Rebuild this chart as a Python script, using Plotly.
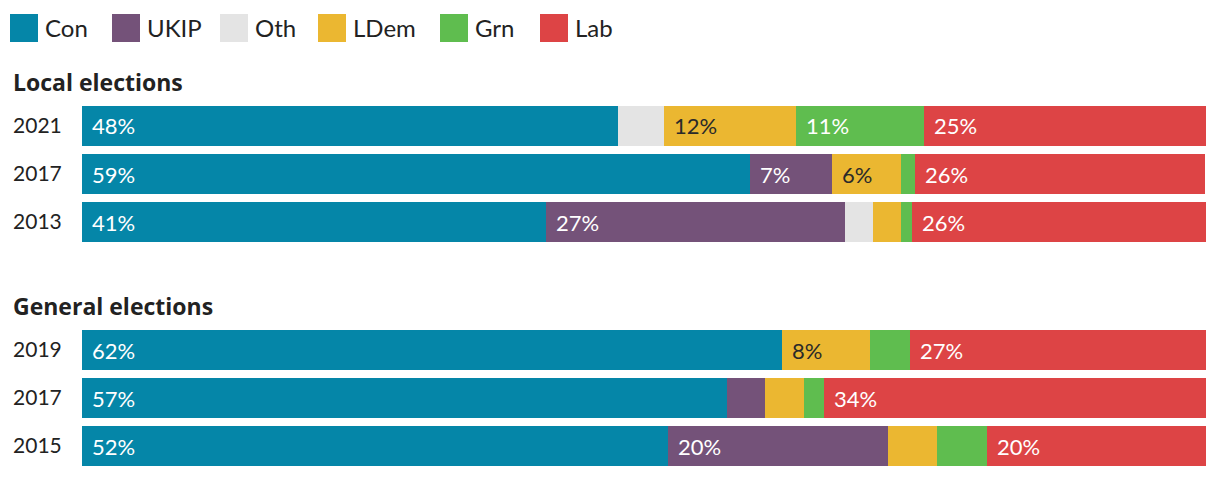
import plotly.graph_objects as go

parties = ["Con", "UKIP", "Oth", "LDem", "Grn", "Lab"]
colors = ["#0586A8", "#745279", "#E4E4E4", "#EBB731", "#5FBD4F", "#DD4445"]
text_colors = ["#FFFFFF", "#FFFFFF", "#2A2A2A", "#2A2A2A", "#FFFFFF", "#FFFFFF"]

local_years = ["2021", "2017", "2013"]
local_con = [47.7, 59.4, 41.3]
local_ukip = [0.0, 7.3, 26.6]
local_oth = [4.1, 0.0, 2.5]
local_ldem = [11.7, 6.2, 2.5]
local_grn = [11.4, 1.2, 0.9]
local_lab = [25.1, 25.8, 26.3]

general_years = ["2019", "2017", "2015"]
general_con = [62.3, 57.4, 52.1]
general_ukip = [0.0, 3.4, 19.6]
general_oth = [0.0, 0.0, 0.0]
general_ldem = [7.8, 3.4, 4.4]
general_grn = [3.6, 1.8, 4.4]
general_lab = [26.6, 34.0, 19.6]

label_threshold = 5.0

# the page has an 8px body margin; the figure is sized to fill the rest
OFF = 8
W, H = 1220 - OFF, 478 - OFF
ML = 82 - OFF
PR = 1206 - OFF  # right edge of plot in figure coords
MR = W - PR
PW = PR - ML
FONT = "Lato, 'Open Sans', sans-serif"
HFONT = "'Open Sans', Lato, sans-serif"

fig = go.Figure()

groups = [
    ("x", "y", local_years,
     [local_con, local_ukip, local_oth, local_ldem, local_grn, local_lab]),
    ("x2", "y2", general_years,
     [general_con, general_ukip, general_oth, general_ldem, general_grn, general_lab]),
]

annotations = []
for xa, ya, years, series in groups:
    pos = list(range(len(years)))
    bases = [0.0] * len(years)
    for i, p in enumerate(parties):
        vals = series[i]
        fig.add_trace(go.Bar(
            x=vals, y=pos, orientation="h", name=p,
            marker=dict(color=colors[i], line=dict(width=0)),
            xaxis=xa, yaxis=ya, width=40 / 48, showlegend=False,
            customdata=years, hovertemplate="%{customdata}: %{x}%<extra>" + p + "</extra>",
        ))
        for j, v in enumerate(vals):
            if v >= label_threshold:
                annotations.append(dict(
                    x=bases[j], y=pos[j], xref=xa, yref=ya,
                    text=f"{v:.0f}%", showarrow=False, xanchor="left",
                    yanchor="middle", xshift=8,
                    font=dict(family=FONT, size=22, color=text_colors[i]),
                ))
            bases[j] += v

def py(p):
    return 1 - (p - OFF) / H

def px(p):
    return (p - OFF - ML) / PW

# headings
annotations.append(dict(x=px(11), y=py(82), xref="paper", yref="paper",
                        text="<b>Local elections</b>", showarrow=False,
                        xanchor="left", yanchor="middle",
                        font=dict(family=HFONT, size=23, color="#222222")))
annotations.append(dict(x=px(11), y=py(306), xref="paper", yref="paper",
                        text="<b>General elections</b>", showarrow=False,
                        xanchor="left", yanchor="middle",
                        font=dict(family=HFONT, size=23, color="#222222")))

# custom legend
legend_x = [10, 112, 220, 318, 440, 540]
shapes = []
for i, p in enumerate(parties):
    x0 = legend_x[i]
    shapes.append(dict(type="rect", xref="paper", yref="paper",
                       x0=px(x0), x1=px(x0 + 28), y0=py(42), y1=py(14),
                       fillcolor=colors[i], line=dict(width=0), layer="above"))
    annotations.append(dict(x=px(x0 + 33), y=py(28), xref="paper", yref="paper",
                            text=p, showarrow=False, xanchor="left",
                            yanchor="middle",
                            font=dict(family=FONT, size=24, color="#222222")))

axis_common = dict(range=[0, 100], showgrid=False, zeroline=False,
                   showticklabels=False, showline=False, fixedrange=True,
                   automargin=False)

def yaxis(domain, years, anchor):
    return dict(domain=domain, type="linear", range=[len(years) - 0.5, -0.5],
                tickmode="array", tickvals=list(range(len(years))),
                ticktext=years, showgrid=False, zeroline=False,
                ticks="outside", ticklen=15, tickcolor="rgba(0,0,0,0)",
                anchor=anchor, automargin=False, fixedrange=True,
                tickfont=dict(family=FONT, size=21, color="#222222"))

fig.update_layout(
    width=W, height=H,
    margin=dict(l=ML, r=MR, t=0, b=0, pad=0, autoexpand=False),
    paper_bgcolor="white", plot_bgcolor="white",
    barmode="stack", bargap=0,
    font=dict(family=FONT, size=22, color="#222222"),
    xaxis=dict(domain=[0, 1], anchor="y", **axis_common),
    xaxis2=dict(domain=[0, 1], anchor="y2", **axis_common),
    yaxis=yaxis([py(246), py(102)], local_years, "x"),
    yaxis2=yaxis([py(470), py(326)], general_years, "x2"),
    annotations=annotations,
    shapes=shapes,
)

fig.write_html("out.html")
